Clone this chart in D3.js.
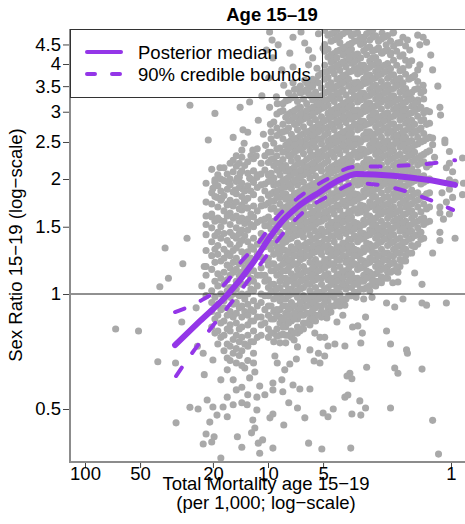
<!DOCTYPE html>
<html>
<head>
<meta charset="utf-8">
<script src="https://cdn.jsdelivr.net/npm/d3@7"></script>
<style>
  body { margin: 0; background: #fff; }
  svg { display: block; }
  text { font-family: "Liberation Sans", Arial, Helvetica, sans-serif; }
</style>
</head>
<body>
<svg id="chart"></svg>
<script>
// tick labels
var xTicks = [100, 50, 20, 10, 5, 1];
var yTicks = [0.5, 1, 1.5, 2, 2.5, 3, 3.5, 4, 4.5];

// posterior median and 90% bounds (mortality per 1,000, sex ratio)
var medianMort  = [32.2, 23.5, 16.5, 12.1, 9.76, 8.27, 6.9, 5.2, 4.05, 3.27, 2.07, 1.35, 0.95];
var medianRatio = [0.735, 0.85, 1.0, 1.205, 1.41, 1.56, 1.69, 1.85, 1.99, 2.06, 2.04, 1.99, 1.93];
var upperMort   = [32.2, 22.9, 16.5, 14.5, 11.3, 9.0, 6.8, 4.82, 3.39, 2.21, 1.51, 0.95];
var upperRatio  = [0.897, 0.965, 1.088, 1.19, 1.36, 1.58, 1.79, 1.99, 2.15, 2.16, 2.18, 2.24];
var lowerMort   = [31.8, 26.7, 21.5, 16.7, 13.4, 10.6, 8.38, 6.4, 4.53, 3.30, 2.15, 1.48, 0.975];
var lowerRatio  = [0.61, 0.688, 0.79, 0.92, 1.055, 1.227, 1.43, 1.64, 1.82, 1.95, 1.905, 1.805, 1.66];

// country-years in the crowded middle: one mortality value, many ratios
var coreMort = [10.9, 9.95, 9.3, 8.6, 8.0, 7.45, 6.9, 6.4, 5.9, 5.5, 5.1, 4.7, 4.35, 4.05, 3.75,
                3.5, 3.24, 3.0, 2.78, 2.58, 2.4, 2.22, 2.06, 1.9, 1.77, 1.64, 1.52, 1.41, 1.31];
var coreRatio = [
  [2.2, 2.06, 1.93, 1.77, 1.7, 1.56, 1.44, 1.38, 1.25, 1.17, 1.12, 1.0, 0.95, 0.87, 0.83, 0.78],
  [2.35, 2.21, 2.05, 1.97, 1.81, 1.73, 1.59, 1.51, 1.41, 1.35, 1.24, 1.19, 1.09, 1.04, 0.99, 0.93, 0.88, 0.81, 0.77],
  [2.82, 2.48, 2.26, 2.17, 2.01, 1.93, 1.85, 1.75, 1.68, 1.55, 1.48, 1.42, 1.36, 1.27, 1.2, 1.15, 1.06, 1.02, 0.97, 0.9, 0.86, 0.79, 0.75],
  [3.0, 2.64, 2.41, 2.2, 2.12, 2.05, 1.95, 1.87, 1.79, 1.72, 1.64, 1.58, 1.52, 1.45, 1.39, 1.33, 1.28, 1.24, 1.18, 1.13, 1.08, 1.04, 0.99, 0.96, 0.91, 0.87, 0.84, 0.78, 0.745],
  [3.2, 2.9, 2.67, 2.45, 2.36, 2.17, 2.1, 2.0, 1.91, 1.83, 1.77, 1.69, 1.61, 1.55, 1.5, 1.42, 1.37, 1.3, 1.25, 1.21, 1.15, 1.1, 1.06, 1.01, 0.97, 0.93, 0.89, 0.85, 0.82, 0.78, 0.745],
  [3.26, 2.99, 2.85, 2.62, 2.53, 2.43, 2.31, 2.23, 2.12, 2.05, 1.95, 1.89, 1.79, 1.73, 1.65, 1.59, 1.51, 1.46, 1.4, 1.33, 1.29, 1.23, 1.19, 1.13, 1.09, 1.03, 1.0, 0.95, 0.92, 0.87, 0.85, 0.8, 0.77],
  [3.44, 3.19, 3.06, 2.91, 2.8, 2.69, 2.56, 2.47, 2.38, 2.27, 2.19, 2.08, 2.0, 1.93, 1.84, 1.75, 1.69, 1.63, 1.55, 1.48, 1.43, 1.36, 1.31, 1.26, 1.2, 1.16, 1.12, 1.06, 1.02, 0.98, 0.93, 0.9, 0.86, 0.82, 0.79],
  [3.39, 3.24, 2.98, 2.87, 2.74, 2.63, 2.51, 2.42, 2.33, 2.21, 2.13, 2.05, 1.96, 1.88, 1.8, 1.71, 1.66, 1.58, 1.52, 1.46, 1.41, 1.34, 1.28, 1.24, 1.18, 1.14, 1.09, 1.04, 0.99, 0.96, 0.92, 0.88, 0.84, 0.81],
  [3.47, 3.31, 3.05, 2.92, 2.81, 2.67, 2.58, 2.46, 2.37, 2.28, 2.17, 2.09, 2.01, 1.92, 1.84, 1.77, 1.69, 1.62, 1.55, 1.49, 1.43, 1.37, 1.31, 1.26, 1.21, 1.15, 1.11, 1.06, 1.02, 0.98, 0.94, 0.89, 0.86, 0.83],
  [3.62, 3.38, 3.24, 3.1, 2.99, 2.86, 2.73, 2.64, 2.52, 2.42, 2.31, 2.22, 2.14, 2.04, 1.95, 1.88, 1.81, 1.72, 1.65, 1.59, 1.52, 1.46, 1.4, 1.34, 1.29, 1.23, 1.19, 1.13, 1.09, 1.04, 1.0, 0.96, 0.92, 0.88, 0.85],
  [3.78, 3.46, 3.3, 3.17, 3.06, 2.91, 2.8, 2.69, 2.55, 2.47, 2.36, 2.28, 2.17, 2.1, 2.0, 1.93, 1.83, 1.76, 1.7, 1.61, 1.55, 1.48, 1.43, 1.36, 1.31, 1.27, 1.2, 1.16, 1.1, 1.06, 1.01, 0.98, 0.93, 0.9, 0.87],
  [4.76, 4.37, 4.17, 3.83, 3.69, 3.52, 3.39, 3.23, 3.12, 2.97, 2.87, 2.73, 2.64, 2.51, 2.43, 2.31, 2.23, 2.12, 2.05, 1.95, 1.89, 1.79, 1.73, 1.65, 1.59, 1.51, 1.46, 1.39, 1.34, 1.29, 1.23, 1.19, 1.13, 1.09, 1.04, 0.99, 0.96, 0.92, 0.89],
  [4.83, 4.63, 4.26, 4.1, 3.91, 3.77, 3.46, 3.3, 3.19, 3.04, 2.93, 2.79, 2.69, 2.56, 2.48, 2.36, 2.28, 2.17, 2.1, 1.99, 1.93, 1.83, 1.77, 1.68, 1.62, 1.54, 1.49, 1.42, 1.37, 1.3, 1.26, 1.2, 1.16, 1.1, 1.06, 1.01, 0.98, 0.93],
  [4.73, 4.55, 4.35, 3.99, 3.85, 3.67, 3.54, 3.37, 3.25, 3.1, 2.99, 2.85, 2.75, 2.62, 2.53, 2.41, 2.33, 2.21, 2.14, 2.03, 1.97, 1.87, 1.81, 1.71, 1.66, 1.58, 1.53, 1.45, 1.41, 1.33, 1.29, 1.23, 1.18, 1.13, 1.09, 1.04, 1.0, 0.96, 0.93],
  [4.85, 4.44, 4.28, 4.08, 3.93, 3.75, 3.61, 3.32, 3.17, 3.06, 2.91, 2.81, 2.67, 2.58, 2.46, 2.38, 2.26, 2.19, 2.08, 2.01, 1.91, 1.85, 1.75, 1.7, 1.61, 1.56, 1.48, 1.44, 1.36, 1.32, 1.25, 1.21, 1.15, 1.12, 1.06, 1.03, 0.97],
  [4.75, 4.53, 4.37, 4.17, 4.02, 3.83, 3.52, 3.39, 3.23, 3.12, 2.97, 2.87, 2.73, 2.64, 2.51, 2.43, 2.31, 2.23, 2.12, 2.05, 1.95, 1.89, 1.79, 1.73, 1.65, 1.59, 1.51, 1.46, 1.39, 1.34, 1.29, 1.23, 1.19, 1.13, 1.09, 1.04, 0.99],
  [4.82, 4.6, 4.25, 4.11, 3.9, 3.77, 3.58, 3.47, 3.29, 3.18, 3.03, 2.93, 2.78, 2.69, 2.55, 2.48, 2.35, 2.28, 2.16, 2.1, 1.98, 1.93, 1.82, 1.77, 1.67, 1.63, 1.53, 1.5, 1.41, 1.37, 1.3, 1.26, 1.19, 1.16, 1.1, 1.06, 1.01],
  [4.7, 4.56, 4.33, 3.97, 3.86, 3.65, 3.55, 3.35, 3.26, 3.08, 3.0, 2.83, 2.76, 2.6, 2.54, 2.39, 2.33, 2.2, 2.14, 2.02, 1.97, 1.86, 1.8, 1.7, 1.66, 1.56, 1.52, 1.44, 1.4, 1.32, 1.29, 1.22, 1.18, 1.12, 1.08, 1.03],
  [4.86, 4.62, 4.43, 4.07, 3.92, 3.74, 3.61, 3.43, 3.31, 3.16, 3.05, 2.9, 2.8, 2.66, 2.58, 2.45, 2.37, 2.25, 2.18, 2.07, 2.0, 1.9, 1.84, 1.74, 1.69, 1.6, 1.55, 1.47, 1.43, 1.35, 1.31, 1.24, 1.21, 1.14, 1.11, 1.05, 1.02],
  [4.74, 4.36, 4.16, 4.0, 3.82, 3.68, 3.52, 3.38, 3.24, 3.11, 2.98, 2.86, 2.74, 2.63, 2.52, 2.42, 2.32, 2.22, 2.13, 2.04, 1.96, 1.88, 1.8, 1.72, 1.66, 1.58, 1.52, 1.46, 1.4, 1.34, 1.28, 1.23, 1.18, 1.13, 1.08, 1.05],
  [4.65, 4.28, 3.93, 3.76, 3.6, 3.46, 3.31, 3.18, 3.05, 2.92, 2.8, 2.68, 2.57, 2.47, 2.37, 2.27, 2.18, 2.09, 2.0, 1.92, 1.84, 1.76, 1.69, 1.62, 1.55, 1.49, 1.43, 1.37, 1.31, 1.26, 1.21, 1.16, 1.11, 1.07],
  [4.75, 4.35, 4.01, 3.84, 3.67, 3.53, 3.39, 3.24, 3.11, 2.98, 2.86, 2.73, 2.63, 2.52, 2.42, 2.31, 2.22, 2.13, 2.04, 1.96, 1.87, 1.8, 1.72, 1.65, 1.58, 1.52, 1.45, 1.4, 1.34, 1.28, 1.23, 1.18, 1.14, 1.1],
  [4.84, 4.45, 4.09, 3.75, 3.6, 3.45, 3.3, 3.18, 3.04, 2.92, 2.79, 2.68, 2.57, 2.46, 2.37, 2.27, 2.17, 2.09, 2.0, 1.92, 1.83, 1.76, 1.69, 1.62, 1.55, 1.49, 1.43, 1.37, 1.31, 1.26, 1.21, 1.15],
  [4.55, 4.19, 3.84, 3.67, 3.54, 3.38, 3.25, 3.11, 2.99, 2.86, 2.74, 2.62, 2.52, 2.42, 2.32, 2.22, 2.13, 2.04, 1.96, 1.88, 1.8, 1.72, 1.66, 1.58, 1.52, 1.46, 1.4, 1.34, 1.28, 1.23, 1.18],
  [4.46, 4.09, 3.76, 3.45, 3.31, 3.18, 3.05, 2.92, 2.8, 2.68, 2.57, 2.47, 2.37, 2.27, 2.18, 2.09, 2.0, 1.92, 1.84, 1.76, 1.69, 1.62, 1.55, 1.49, 1.43, 1.37, 1.31, 1.26, 1.22],
  [4.08, 3.68, 3.37, 3.24, 3.1, 2.98, 2.85, 2.74, 2.63, 2.52, 2.41, 2.32, 2.22, 2.13, 2.04, 1.96, 1.87, 1.8, 1.72, 1.65, 1.58, 1.52, 1.46, 1.4, 1.34, 1.28],
  [3.86, 3.6, 3.45, 3.18, 3.05, 2.92, 2.68, 2.57, 2.47, 2.27, 2.18, 2.09, 2.0, 1.84, 1.76, 1.69, 1.55, 1.49, 1.43, 1.35],
  [3.4, 3.24, 2.98, 2.86, 2.63, 2.52, 2.32, 2.22, 2.04, 1.96, 1.8, 1.72, 1.58, 1.52, 1.4],
  [3.0, 2.8, 2.57, 2.37, 2.18, 2.0, 1.84, 1.69, 1.55]
];

// the same crowd, mortality values lying between the columns above
var midMort = [10.4, 9.62, 8.94, 8.29, 7.72, 7.17, 6.65, 6.15, 5.7, 5.3, 4.9, 4.52, 4.2, 3.9,
               3.62, 3.37, 3.12, 2.89, 2.68, 2.49, 2.31, 2.14, 1.98, 1.83, 1.7, 1.58, 1.46, 1.36];
var midRatio = [
  [2.3, 2.11, 1.94, 1.86, 1.71, 1.57, 1.51, 1.39, 1.33, 1.23, 1.12, 1.08, 0.99, 0.91, 0.84],
  [2.66, 2.55, 2.35, 2.25, 2.07, 1.98, 1.83, 1.75, 1.67, 1.54, 1.48, 1.36, 1.31, 1.2, 1.15, 1.06, 1.01, 0.93, 0.86, 0.79],
  [2.96, 2.72, 2.6, 2.4, 2.3, 2.2, 2.11, 1.94, 1.86, 1.79, 1.64, 1.57, 1.51, 1.39, 1.33, 1.28, 1.17, 1.12, 1.03, 0.99, 0.91, 0.88, 0.81, 0.775],
  [3.15, 3.02, 2.78, 2.66, 2.55, 2.35, 2.25, 2.15, 1.98, 1.9, 1.83, 1.67, 1.61, 1.54, 1.42, 1.36, 1.31, 1.2, 1.15, 1.1, 1.01, 0.97, 0.93, 0.86, 0.82, 0.785],
  [3.36, 3.22, 2.96, 2.84, 2.72, 2.5, 2.4, 2.3, 2.11, 2.02, 1.94, 1.79, 1.71, 1.64, 1.51, 1.45, 1.39, 1.28, 1.23, 1.17, 1.08, 1.03, 0.99, 0.91, 0.88, 0.84, 0.78],
  [3.43, 3.29, 3.02, 2.9, 2.78, 2.55, 2.45, 2.35, 2.15, 2.07, 1.98, 1.83, 1.75, 1.67, 1.54, 1.48, 1.42, 1.31, 1.26, 1.2, 1.1, 1.06, 1.01, 0.93, 0.89, 0.86, 0.79],
  [3.5, 3.36, 3.08, 2.96, 2.84, 2.6, 2.5, 2.4, 2.2, 2.11, 2.02, 1.86, 1.79, 1.71, 1.57, 1.51, 1.45, 1.33, 1.28, 1.23, 1.12, 1.08, 1.03, 0.95, 0.91, 0.88, 0.81],
  [3.57, 3.43, 3.15, 3.02, 2.9, 2.66, 2.55, 2.45, 2.25, 2.15, 2.07, 1.9, 1.83, 1.75, 1.61, 1.54, 1.48, 1.36, 1.31, 1.26, 1.15, 1.1, 1.06, 0.97, 0.93, 0.89, 0.84],
  [3.65, 3.5, 3.22, 3.08, 2.96, 2.72, 2.6, 2.5, 2.3, 2.2, 2.11, 1.94, 1.86, 1.79, 1.64, 1.57, 1.51, 1.39, 1.33, 1.28, 1.17, 1.12, 1.08, 0.99, 0.95, 0.91, 0.86],
  [3.73, 3.57, 3.29, 3.15, 3.02, 2.78, 2.66, 2.55, 2.35, 2.25, 2.15, 1.98, 1.9, 1.83, 1.67, 1.61, 1.54, 1.42, 1.36, 1.31, 1.2, 1.15, 1.1, 1.01, 0.97, 0.93, 0.88],
  [4.9, 4.5, 4.32, 3.97, 3.81, 3.65, 3.36, 3.22, 3.08, 2.84, 2.72, 2.6, 2.4, 2.3, 2.2, 2.02, 1.94, 1.86, 1.71, 1.64, 1.57, 1.45, 1.39, 1.33, 1.23, 1.17, 1.12, 1.03, 0.99, 0.95, 0.89],
  [4.8, 4.59, 4.23, 4.05, 3.89, 3.57, 3.43, 3.29, 3.02, 2.9, 2.78, 2.55, 2.45, 2.35, 2.15, 2.07, 1.98, 1.83, 1.75, 1.67, 1.54, 1.48, 1.42, 1.31, 1.26, 1.2, 1.1, 1.06, 1.01, 0.93],
  [4.9, 4.7, 4.32, 4.15, 3.97, 3.65, 3.5, 3.36, 3.08, 2.96, 2.84, 2.6, 2.5, 2.4, 2.2, 2.11, 2.02, 1.86, 1.79, 1.71, 1.57, 1.51, 1.45, 1.33, 1.28, 1.23, 1.12, 1.08, 1.03, 0.95],
  [4.8, 4.41, 4.23, 4.05, 3.73, 3.57, 3.43, 3.15, 3.02, 2.9, 2.66, 2.55, 2.45, 2.25, 2.15, 2.07, 1.9, 1.83, 1.75, 1.61, 1.54, 1.48, 1.36, 1.31, 1.26, 1.15, 1.1, 1.06, 0.97],
  [4.9, 4.5, 4.32, 4.15, 3.81, 3.65, 3.5, 3.22, 3.08, 2.96, 2.72, 2.6, 2.5, 2.3, 2.2, 2.11, 1.94, 1.86, 1.79, 1.64, 1.57, 1.51, 1.39, 1.33, 1.28, 1.17, 1.12, 1.08, 0.99],
  [4.8, 4.59, 4.23, 4.05, 3.89, 3.57, 3.43, 3.29, 3.02, 2.9, 2.78, 2.55, 2.45, 2.35, 2.15, 2.07, 1.98, 1.83, 1.75, 1.67, 1.54, 1.48, 1.42, 1.31, 1.26, 1.2, 1.1, 1.06, 1.01],
  [4.7, 4.5, 4.15, 3.97, 3.81, 3.5, 3.36, 3.22, 2.96, 2.84, 2.72, 2.5, 2.4, 2.3, 2.11, 2.02, 1.94, 1.79, 1.71, 1.64, 1.51, 1.45, 1.39, 1.28, 1.23, 1.17, 1.08, 1.03],
  [4.8, 4.41, 4.23, 3.89, 3.73, 3.57, 3.29, 3.15, 3.02, 2.78, 2.66, 2.55, 2.35, 2.25, 2.15, 1.98, 1.9, 1.83, 1.67, 1.61, 1.54, 1.42, 1.36, 1.31, 1.2, 1.15, 1.1, 1.04],
  [4.9, 4.7, 4.32, 4.15, 3.97, 3.65, 3.5, 3.36, 3.08, 2.96, 2.84, 2.6, 2.5, 2.4, 2.2, 2.11, 2.02, 1.86, 1.79, 1.71, 1.57, 1.51, 1.45, 1.33, 1.28, 1.23, 1.12, 1.08],
  [4.59, 4.41, 4.05, 3.89, 3.73, 3.43, 3.29, 3.15, 2.9, 2.78, 2.66, 2.45, 2.35, 2.25, 2.07, 1.98, 1.9, 1.75, 1.67, 1.61, 1.48, 1.42, 1.36, 1.26, 1.2, 1.15, 1.08],
  [4.7, 4.32, 3.97, 3.81, 3.5, 3.36, 3.22, 2.96, 2.84, 2.72, 2.5, 2.4, 2.3, 2.11, 2.02, 1.94, 1.79, 1.71, 1.64, 1.51, 1.45, 1.39, 1.28, 1.23, 1.17, 1.1],
  [4.59, 4.23, 3.89, 3.73, 3.43, 3.29, 3.15, 2.9, 2.78, 2.66, 2.45, 2.35, 2.25, 2.07, 1.98, 1.9, 1.75, 1.67, 1.61, 1.48, 1.42, 1.36, 1.26, 1.2, 1.14],
  [4.32, 3.97, 3.65, 3.5, 3.22, 3.08, 2.96, 2.72, 2.6, 2.5, 2.3, 2.2, 2.11, 1.94, 1.86, 1.79, 1.64, 1.57, 1.51, 1.39, 1.33, 1.28, 1.18],
  [4.23, 3.89, 3.57, 3.43, 3.15, 3.02, 2.9, 2.66, 2.55, 2.45, 2.25, 2.15, 2.07, 1.9, 1.83, 1.75, 1.61, 1.54, 1.48, 1.36, 1.31, 1.22],
  [3.97, 3.65, 3.36, 3.22, 2.96, 2.84, 2.72, 2.5, 2.4, 2.3, 2.11, 2.02, 1.94, 1.79, 1.71, 1.64, 1.51, 1.45, 1.39, 1.28],
  [3.73, 3.43, 3.15, 3.02, 2.78, 2.66, 2.45, 2.35, 2.25, 2.07, 1.98, 1.83, 1.75, 1.61, 1.54, 1.42, 1.33],
  [3.36, 3.08, 2.84, 2.72, 2.5, 2.3, 2.2, 2.02, 1.94, 1.79, 1.64, 1.57, 1.45, 1.39],
  [3.02, 2.78, 2.55, 2.35, 2.15, 1.98, 1.83, 1.67, 1.54]
];

// the looser crowd left of the main one (mortality 12 to 22)
var leftMort = [21.8, 20.3, 19.5, 18.8, 18.1, 17.4, 16.7, 16.1, 15.5, 14.9, 14.35, 13.9, 13.4, 12.9, 12.4, 12.0, 11.45];
var leftRatio = [
  [1.95, 1.74, 1.6, 1.43, 1.3, 1.18, 1.12, 0.99],
  [2.12, 1.84, 1.72, 1.62, 1.49, 1.37, 1.26, 1.16, 1.02, 0.95, 0.9, 0.82],
  [1.96, 1.8, 1.55, 1.42, 1.31, 1.21, 1.08, 0.98, 0.86, 0.79],
  [2.05, 1.92, 1.69, 1.58, 1.45, 1.34, 1.27, 1.13, 1.05, 0.94, 0.88, 0.8, 0.74],
  [2.0, 1.86, 1.76, 1.5, 1.4, 1.22, 1.1, 1.0, 0.91, 0.84, 0.77],
  [2.14, 1.98, 1.81, 1.65, 1.55, 1.44, 1.31, 1.24, 1.14, 1.06, 0.96, 0.92, 0.85, 0.78, 0.71],
  [2.06, 1.88, 1.72, 1.6, 1.38, 1.28, 1.19, 1.09, 1.02, 0.88, 0.81, 0.74, 0.68],
  [2.2, 2.0, 1.93, 1.76, 1.63, 1.52, 1.45, 1.35, 1.26, 1.17, 1.12, 1.04, 0.98, 0.9, 0.83, 0.8, 0.73, 0.67],
  [2.24, 2.09, 1.85, 1.7, 1.58, 1.42, 1.3, 1.21, 1.14, 1.0, 0.94, 0.87, 0.76, 0.7],
  [2.3, 2.16, 1.97, 1.83, 1.74, 1.6, 1.49, 1.4, 1.32, 1.24, 1.16, 1.08, 1.03, 0.95, 0.89, 0.84, 0.78, 0.72, 0.66],
  [2.2, 2.02, 1.9, 1.67, 1.55, 1.44, 1.35, 1.2, 1.12, 0.99, 0.92, 0.81, 0.75, 0.69],
  [2.28, 2.1, 1.95, 1.8, 1.71, 1.58, 1.47, 1.38, 1.29, 1.21, 1.14, 1.06, 1.0, 0.93, 0.87, 0.82, 0.77, 0.71, 0.65],
  [2.17, 1.86, 1.75, 1.53, 1.42, 1.25, 1.17, 0.97, 0.9, 0.74],
  [2.22, 2.07, 1.92, 1.78, 1.68, 1.57, 1.47, 1.37, 1.29, 1.21, 1.13, 1.07, 1.0, 0.94, 0.88, 0.83, 0.78, 0.73, 0.67],
  [2.3, 2.0, 1.86, 1.62, 1.52, 1.33, 1.24, 1.1, 1.03, 0.91, 0.85, 0.75],
  [2.26, 2.1, 1.96, 1.82, 1.7, 1.59, 1.5, 1.4, 1.31, 1.23, 1.15, 1.08, 1.02, 0.96, 0.9, 0.85, 0.8, 0.75, 0.7, 0.66],
  [2.4, 2.05, 1.9, 1.65, 1.54, 1.35, 1.27, 1.12, 1.05, 0.93, 0.87, 0.77]
];

// the scattered country-years around the crowd: [mortality, ratio]
var otherPoints = [
  [68, 0.81], [51, 0.80], [40, 0.665], [39, 1.045], [35, 1.10], [32, 0.66], [29.6, 0.845], [24.7, 0.92],
  [23, 1.05], [24.3, 0.73], [22.6, 0.70], [22.3, 0.615], [31.8, 0.46], [26.7, 0.505], [24.1, 0.50],
  [21.8, 0.43], [22.6, 0.405], [20.3, 0.41], [19.7, 0.423], [20.8, 0.462], [21.5, 0.528], [20.0, 0.506],
  [18.1, 0.372], [20, 0.672],
  [26.7, 3.12], [19.5, 2.97], [21.2, 2.53], [15.5, 2.57], [14.2, 3.08], [12.6, 3.18], [13.7, 2.69],
  [12.9, 2.65], [13.9, 2.38], [12.1, 2.38], [13.5, 2.48], [18.3, 2.14], [19.5, 1.99], [16.5, 1.96],
  [14.7, 2.01], [14.2, 2.07], [20, 1.89], [19, 1.79], [17.9, 1.78], [15.1, 1.87], [13.7, 1.88],
  [12.6, 2.01], [11.5, 2.02], [13.4, 1.76], [13.0, 1.68], [13.9, 1.66], [16.7, 1.71], [18.3, 1.56],
  [20.3, 1.59], [21.8, 1.52], [27.7, 1.40], [36.5, 1.32], [29.2, 1.20], [22.3, 1.18],
  [16.7, 0.633], [15.5, 0.596], [13.9, 0.57], [12.6, 0.603], [13.0, 0.513], [11.5, 0.537],
  [11.5, 0.497], [16.7, 0.537], [17.6, 0.506], [19.0, 0.482], [15.5, 0.513], [13.9, 0.519], [12.1, 0.468],
  [16.7, 0.477], [11.8, 0.446], [12.3, 0.433], [14.7, 0.423], [13.9, 0.397], [11.3, 0.407], [11.1, 0.383],
  [13.4, 0.64], [11.8, 0.625], [14.9, 0.561], [18.1, 0.596], [11.1, 0.574], [12.9, 0.545],
  [1.95, 1.14], [1.58, 1.135], [2.08, 1.07], [1.95, 1.075], [1.44, 1.06], [2.25, 0.947], [2.03, 0.925],
  [1.83, 0.97], [1.44, 0.947], [1.36, 0.935], [1.06, 0.947], [2.93, 0.87], [2.25, 0.80], [2.14, 0.74],
  [1.75, 0.714], [1.73, 0.70], [1.44, 0.636], [2.03, 0.64], [1.95, 0.62], [2.89, 0.643], [3.57, 0.62],
  [3.7, 0.61], [3.48, 0.60], [3.8, 0.537], [3.66, 0.544], [3.15, 0.525], [2.93, 0.503], [3.11, 0.482],
  [3.48, 0.485], [4.4, 0.50], [5.0, 0.488], [4.7, 0.477], [6.29, 0.474], [6.9, 0.503], [7.7, 0.519],
  [8.2, 0.454], [9.4, 0.485], [9.76, 0.474], [6.0, 0.407], [5.08, 0.393], [3.53, 0.395], [2.14, 0.503],
  [1.26, 0.467], [1.17, 0.381], [9.4, 0.395], [10.7, 0.415], [5.9, 0.564], [6.7, 0.564], [7.3, 0.578],
  [8.3, 0.555], [9.4, 0.561], [10.4, 0.545], [3.05, 0.79], [3.11, 0.744], [3.8, 0.731], [4.31, 0.74],
  [4.7, 0.731], [5.9, 0.714], [5.3, 0.70], [4.9, 0.688], [5.6, 0.668], [5.2, 0.66], [7.0, 0.676],
  [7.6, 0.656], [3.45, 0.82], [3.23, 0.825], [4.2, 0.845], [3.9, 0.88], [4.2, 0.947], [3.8, 0.935],
  [4.53, 0.897], [4.77, 0.865], [5.55, 0.79], [5.2, 0.77], [4.9, 0.77], [6.7, 0.80], [7.2, 0.758],
  [6.9, 0.727], [9.17, 0.688], [8.9, 0.66], [8.1, 0.633], [8.4, 0.596], [9.4, 0.585],
  [3.3, 0.98], [3.57, 0.99], [2.7, 0.98], [3.0, 0.97],
  [1.15, 3.08], [1.14, 2.94], [1.26, 2.56], [1.26, 2.46], [1.08, 2.53], [1.08, 2.49], [1.23, 2.28],
  [1.06, 2.14], [0.98, 2.09], [0.95, 1.96], [1.15, 1.69], [1.15, 1.63], [0.98, 1.79], [1.06, 1.74],
  [1.15, 1.45], [0.95, 1.40], [1.26, 1.28], [1.15, 1.38], [0.865, 2.27], [0.855, 1.95], [0.865, 1.82],
  [1.02, 2.36], [1.02, 2.2], [1.02, 1.99], [1.02, 1.88], [1.02, 1.62], [1.1, 1.57], [1.12, 1.84],
  [1.52, 4.76], [1.36, 4.56], [1.29, 4.22], [1.18, 3.50], [1.62, 3.70], [1.42, 3.52], [1.83, 4.70],
  [2.08, 4.82], [1.96, 4.54], [1.68, 4.35], [1.48, 3.98], [1.26, 3.86], [1.68, 3.32], [1.52, 3.22],
  [2.38, 4.82], [2.26, 4.49], [1.73, 4.62], [1.48, 4.49], [1.42, 4.70], [2.38, 4.27], [2.13, 4.27],
  [9.8, 4.85], [9.5, 4.62], [10.2, 4.35], [8.8, 4.49], [9.4, 4.15], [7.3, 4.70], [7.6, 4.27],
  [8.4, 3.86], [7.3, 3.57], [6.0, 4.35], [6.3, 4.54], [5.7, 4.15], [6.0, 3.98], [7.3, 3.93],
  [6.3, 3.63], [5.7, 3.59], [5.0, 3.22], [5.7, 3.28], [6.0, 3.35], [9.9, 3.68], [9.0, 3.28], [9.8, 3.08],
  [5.3, 4.8], [5.0, 4.4], [5.4, 3.9], [6.6, 4.85], [8.2, 3.52], [10.6, 2.62], [11.3, 2.85], [10.3, 2.45],
  [11.6, 2.3], [9.7, 2.78], [8.9, 3.15], [10.8, 3.3]
];

var W = 465, H = 524;
var plot = { left: 70, top: 29, right: 475, bottom: 462 };

var svg = d3.select("#chart").attr("width", W).attr("height", H);

var x = d3.scaleLog().domain([100, 1]).range([85, 451]);
var y = d3.scaleLog().domain([0.5, 1]).range([409, 294]);

var points = otherPoints.slice();
function addColumns(ms, rs) {
  ms.forEach(function(m, i) {
    rs[i].forEach(function(r) { points.push([m, r]); });
  });
}
addColumns(leftMort, leftRatio);
addColumns(coreMort, coreRatio);
addColumns(midMort, midRatio);

svg.append("defs").append("clipPath").attr("id", "plotclip")
  .append("rect")
    .attr("x", plot.left).attr("y", plot.top)
    .attr("width", plot.right - plot.left).attr("height", plot.bottom - plot.top);

var body = svg.append("g").attr("clip-path", "url(#plotclip)");

body.append("g")
  .selectAll("circle")
  .data(points)
  .enter().append("circle")
    .attr("cx", function(d) { return x(d[0]); })
    .attr("cy", function(d) { return y(d[1]); })
    .attr("r", 3.55)
    .attr("fill", "#a9a9a9");

// reference line at ratio 1
body.append("line")
  .attr("x1", plot.left).attr("x2", plot.right)
  .attr("y1", y(1)).attr("y2", y(1))
  .attr("stroke", "#222").attr("stroke-width", 1);

var purple = "#9436e8";
function curve(ms, rs) {
  return d3.line()
    .x(function(d) { return x(d[0]); })
    .y(function(d) { return y(d[1]); })
    .curve(d3.curveMonotoneX)(d3.zip(ms, rs));
}

body.append("path")
  .attr("d", curve(upperMort, upperRatio))
  .attr("fill", "none").attr("stroke", purple).attr("stroke-width", 4)
  .attr("stroke-dasharray", "10,18").attr("stroke-linecap", "round");
body.append("path")
  .attr("d", curve(lowerMort, lowerRatio))
  .attr("fill", "none").attr("stroke", purple).attr("stroke-width", 4)
  .attr("stroke-dasharray", "10,18").attr("stroke-linecap", "round");
body.append("path")
  .attr("d", curve(medianMort, medianRatio))
  .attr("fill", "none").attr("stroke", purple).attr("stroke-width", 6)
  .attr("stroke-linecap", "round");

// axes
var fs = "18.5px";
var yAxis = svg.append("g")
  .attr("transform", "translate(" + plot.left + ",0)")
  .call(d3.axisLeft(y).tickValues(yTicks).tickFormat(function(d) { return String(d); })
    .tickSize(7).tickPadding(2).tickSizeOuter(0));
yAxis.select(".domain").remove();
yAxis.selectAll("line").attr("stroke", "#444");
yAxis.selectAll("text").style("font-size", fs).attr("fill", "#000");

var xAxis = svg.append("g")
  .attr("transform", "translate(0," + plot.bottom + ")")
  .call(d3.axisBottom(x).tickValues(xTicks).tickFormat(function(d) { return String(d); })
    .tickSize(6).tickPadding(-1).tickSizeOuter(0));
xAxis.select(".domain").remove();
xAxis.selectAll("line").attr("stroke", "#444");
xAxis.selectAll("text").style("font-size", fs).attr("fill", "#000");

svg.append("line")
  .attr("x1", plot.left).attr("x2", plot.left)
  .attr("y1", plot.top).attr("y2", plot.bottom + 0.5)
  .attr("stroke", "#8c8c8c").attr("stroke-width", 2);
svg.append("line")
  .attr("x1", plot.left - 1).attr("x2", plot.right)
  .attr("y1", plot.bottom).attr("y2", plot.bottom)
  .attr("stroke", "#8c8c8c").attr("stroke-width", 2);
svg.append("line")
  .attr("x1", plot.left).attr("x2", plot.right)
  .attr("y1", plot.top + 0.5).attr("y2", plot.top + 0.5)
  .attr("stroke", "#666").attr("stroke-width", 1);

// legend
var leg = svg.append("g");
leg.append("rect")
  .attr("x", plot.left + 0.5).attr("y", plot.top + 0.5)
  .attr("width", 252).attr("height", 68)
  .attr("fill", "none").attr("stroke", "#333").attr("stroke-width", 1);
leg.append("line")
  .attr("x1", 87).attr("x2", 121).attr("y1", 52).attr("y2", 52)
  .attr("stroke", purple).attr("stroke-width", 4).attr("stroke-linecap", "round");
leg.append("line")
  .attr("x1", 87).attr("x2", 121).attr("y1", 74).attr("y2", 74)
  .attr("stroke", purple).attr("stroke-width", 4).attr("stroke-linecap", "round")
  .attr("stroke-dasharray", "8,17");
leg.append("text").attr("x", 138).attr("y", 58.5).style("font-size", fs).text("Posterior median");
leg.append("text").attr("x", 138).attr("y", 81).style("font-size", fs).text("90% credible bounds");

// titles
svg.append("text")
  .attr("x", 272).attr("y", 21).attr("text-anchor", "middle")
  .style("font-size", fs).style("font-weight", "bold")
  .text("Age 15\u201319");
svg.append("text")
  .attr("x", 266).attr("y", 490).attr("text-anchor", "middle")
  .style("font-size", fs)
  .text("Total Mortality age 15\u221219");
svg.append("text")
  .attr("x", 266).attr("y", 509).attr("text-anchor", "middle")
  .style("font-size", fs)
  .text("(per 1,000; log\u2212scale)");
svg.append("text")
  .attr("transform", "translate(22,245) rotate(-90)")
  .attr("text-anchor", "middle")
  .style("font-size", fs)
  .text("Sex Ratio 15\u221219 (log\u2212scale)");
</script>
</body>
</html>
